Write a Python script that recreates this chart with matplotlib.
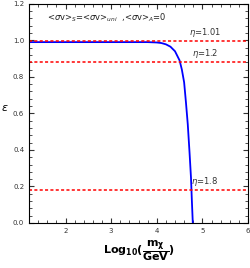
import matplotlib.pyplot as plt
import matplotlib
from matplotlib.ticker import MultipleLocator, FormatStrFormatter
matplotlib.rcParams['font.family'] = 'DejaVu Sans'

# curve
log_m = [1.2, 2.0, 3.0, 3.8, 4.0, 4.1, 4.2, 4.3, 4.4, 4.5, 4.55, 4.6, 4.64, 4.68, 4.72, 4.75, 4.77, 4.79]
eps = [0.99, 0.99, 0.99, 0.99, 0.988, 0.985, 0.978, 0.965, 0.94, 0.89, 0.84, 0.77, 0.66, 0.54, 0.38, 0.25, 0.12, 0.0]

eta_vals = [0.995, 0.88, 0.18]
eta_labels = [r'$\eta$=1.01', r'$\eta$=1.2', r'$\eta$=1.8']
eta_label_y = [1.045, 0.925, 0.225]

fig = plt.figure(figsize=(2.5, 2.68), dpi=100)
ax = fig.add_axes([0.116, 0.168, 0.876, 0.818])

ax.plot(log_m, eps, color='blue', lw=1.3)
for v, lab, ly in zip(eta_vals, eta_labels, eta_label_y):
    ax.axhline(v, color='red', ls=(0, (2, 1.5)), lw=1.1)
    ax.text(5.05, ly, lab, fontsize=6, ha='center', va='center', color='#333333')

ax.text(1.6, 1.125, r'<$\sigma$v>$_S$=<$\sigma$v>$_{uni}$  ,<$\sigma$v>$_A$=0',
        fontsize=6, va='center', color='#222222')

ax.set_xlim(1.2, 6)
ax.set_ylim(0, 1.2)
ax.set_xticks([2, 3, 4, 5, 6])
ax.set_yticks([0, 0.2, 0.4, 0.6, 0.8, 1.0, 1.2])
ax.yaxis.set_major_formatter(FormatStrFormatter('%.1f'))
ax.xaxis.set_minor_locator(MultipleLocator(0.2))
ax.yaxis.set_minor_locator(MultipleLocator(0.04))
ax.tick_params(which='both', direction='in', top=True, right=True, labelsize=5, colors='#333333')
ax.tick_params(which='major', length=3.5)
ax.tick_params(which='minor', length=2)

ax.set_ylabel(r'$\epsilon$', fontsize=8, rotation=0, labelpad=6)
ax.set_xlabel(r'$\mathbf{Log_{10}(\dfrac{m_\chi}{GeV})}$', fontsize=8, labelpad=3)

plt.savefig('out.png', dpi=100)
